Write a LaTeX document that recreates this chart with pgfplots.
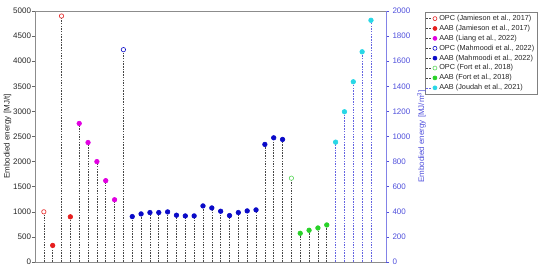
\documentclass[border=0pt]{standalone}
\usepackage{pgfplots}
\pgfplotsset{compat=1.18}
\usepackage{fontspec}
\setmainfont{Liberation Sans}
\definecolor{cR}{RGB}{230,30,30}
\definecolor{cM}{RGB}{225,0,225}
\definecolor{cB}{RGB}{10,10,200}
\definecolor{cG}{RGB}{40,210,40}
\definecolor{cGo}{RGB}{90,215,90}
\definecolor{cC}{RGB}{40,215,230}
\definecolor{stemK}{RGB}{70,70,70}
\definecolor{stemB}{RGB}{100,100,225}
\definecolor{axB}{RGB}{80,80,220}
\newcommand{\stemleg}[3]{%
 \addlegendimage{legend image code/.code={\draw[#1, dash pattern=on 1.5pt off 1.2pt, line width=0.6pt] (0pt,0pt) -- (5pt,0pt); \draw[#2, fill=#3, line width=0.6pt] (8.5pt,0pt) circle (2pt);}}}
\pgfplotsset{
 stemL/.style={ycomb, stemK, dash pattern=on 1.5pt off 1.2pt, line width=0.6pt, forget plot},
 stemR/.style={ycomb, stemB, dash pattern=on 1.5pt off 1.2pt, line width=0.6pt, forget plot},
 filled/.style={mark=*, mark size=2.3pt, mark options={solid, draw=#1, fill=#1}},
 open/.style={mark=*, mark size=2.2pt, mark options={solid, draw=#1, fill=white, line width=0.6pt}},
}
\begin{document}
\begin{tikzpicture}
\path[use as bounding box] (-35pt,-8pt) rectangle (515pt,262pt);
\begin{axis}[
 at={(0,0)}, anchor=south west,
 scale only axis, width=351pt, height=251pt,
 xmin=0, xmax=39.7, ymin=0, ymax=5000,
 axis y line*=left, axis x line*=box,
 xtick=\empty, ytick distance=500,
 tick align=outside, major tick length=3pt,
 tick style={black!60, line width=0.5pt},
 axis line style={black!45, line width=0.5pt},
 ticklabel style={font=\fontsize{8}{9}\selectfont, text=black!85},
 yticklabel style={inner sep=0.8pt},
 /pgf/number format/assume math mode=true,
 /pgf/number format/set thousands separator={},
 ylabel={Embodied energy [MJ/t]},
 ylabel style={font=\fontsize{8}{9}\selectfont, text=black!85,
   at={(axis description cs:-0.078,0.5)}, anchor=center},
 legend style={at={(1.111,0.996)}, anchor=north west, draw=black!50,
   font=\fontsize{7.3}{8}\selectfont, text=black!85, row sep=-0.9pt,
   inner sep=1pt, cells={anchor=west}},
 legend cell align=left,
 clip=false,
]
\addplot[stemL, open=cR] coordinates {(1,1000) (3,4900)};
\addplot[stemL, filled=cR] coordinates {(2,330) (4,900)};
\addplot[stemL, filled=cM] coordinates {(5,2760) (6,2380) (7,2000) (8,1620) (9,1240)};
\addplot[stemL, open=cB] coordinates {(10,4230)};
\addplot[stemL, filled=cB] coordinates {(11,905) (12,958) (13,985) (14,985) (15,998) (16,932) (17,918) (18,918) (19,1117) (20,1077) (21,1011) (22,925) (23,985) (24,1018) (25,1038) (26,2342) (27,2474) (28,2441)};
\addplot[stemL, open=cGo] coordinates {(29,1670)};
\addplot[stemL, filled=cG] coordinates {(30,572) (31,632) (32,678) (33,738)};
\stemleg{stemK}{cR}{white}
\addlegendentry{OPC (Jamieson et al., 2017)}
\stemleg{stemK}{cR}{cR}
\addlegendentry{AAB (Jamieson et al., 2017)}
\stemleg{stemK}{cM}{cM}
\addlegendentry{AAB (Liang et al., 2022)}
\stemleg{stemK}{cB}{white}
\addlegendentry{OPC (Mahmoodi et al., 2022)}
\stemleg{stemK}{cB}{cB}
\addlegendentry{AAB (Mahmoodi et al., 2022)}
\stemleg{stemK}{cGo}{white}
\addlegendentry{OPC (Fort et al., 2018)}
\stemleg{stemK}{cG}{cG}
\addlegendentry{AAB (Fort et al., 2018)}
\stemleg{stemB}{cC}{cC}
\addlegendentry{AAB (Joudah et al., 2021)}
\end{axis}
\begin{axis}[
 at={(0,0)}, anchor=south west,
 scale only axis, width=351pt, height=251pt,
 xmin=0, xmax=39.7, ymin=0, ymax=2000,
 axis y line*=right, axis x line=none,
 ytick distance=200,
 tick align=outside, major tick length=3pt,
 tick style={axB, line width=0.5pt},
 axis line style={stemB!80, line width=0.5pt},
 ticklabel style={font=\fontsize{8}{9}\selectfont, text=axB},
 /pgf/number format/assume math mode=true,
 /pgf/number format/set thousands separator={},
 ylabel={Embodied energy [MJ/m\textsuperscript{3}]},
 ylabel style={font=\fontsize{8}{9}\selectfont, text=axB},
 clip=false,
]
\addplot[stemR, filled=cC] coordinates {(34,955) (35,1197) (36,1436) (37,1675) (38,1926)};
\end{axis}
\end{tikzpicture}
\end{document}
